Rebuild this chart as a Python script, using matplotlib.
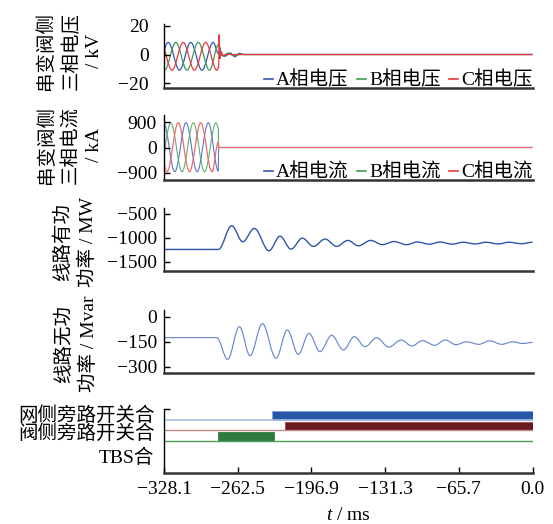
import matplotlib
matplotlib.use('Agg')
import matplotlib.pyplot as plt
from matplotlib.path import Path
from matplotlib.patches import PathPatch
from matplotlib.lines import Line2D

plt.rcParams['font.family'] = ['Liberation Serif', 'Noto Sans CJK SC']
plt.rcParams['font.size'] = 14
plt.rcParams['mathtext.fontset'] = 'custom'
plt.rcParams['mathtext.it'] = 'Liberation Serif:italic'
plt.rcParams['mathtext.rm'] = 'Liberation Serif'

# ---- 数据（从图中读取的极值点，单位：ms） ----
# 串变阀侧三相电压 / kV
ua_t = [-334.3, -324.3, -314.3, -304.3, -294.3, -284.3, -279.5, -274.0, -269.0, -265.0, -261.0, -257.0, 0.0]
ua_v = [-11, 8.5, -11, 8.5, -11, 8.5, 0.5, -1.2, 1.0, -1.5, 0.8, 0, 0]
ub_t = [-337.6, -327.6, -317.6, -307.6, -297.6, -287.6, -279.5, -276.0, -271.0, -266.0, -260.0, 0.0]
ub_v = [8.5, -11, 8.5, -11, 8.5, -11, 7, -1, 1, -0.8, 0, 0]
uc_t = [-331.0, -321.0, -311.0, -301.0, -291.0, -281.0, -279.4, -279.1, -278.3, -277.3, -275.5, -272.0, 0.0]
uc_v = [8.5, -11, 8.5, -11, 8.5, -11, -9, 14, -3, 2, -0.5, 0, 0]

# 串变阀侧三相电流 / kA
ia_t = [-328.5, -318.5, -308.5, -298.6, -288.6, -279.7, -279.5, 0.0]
ia_v = [875, -855, 875, -855, 875, -830, 0, 0]
ib_t = [-332.0, -322.1, -312.0, -302.0, -292.0, -281.8, -279.7, -279.5, 0.0]
ib_v = [-855, 875, -855, 875, -855, 875, 690, 0, 0]
ic_t = [-335.4, -325.4, -315.4, -305.4, -295.4, -285.4, -279.7, -279.5, 0.0]
ic_v = [875, -855, 875, -855, 875, -855, 190, 0, 0]

# 线路有功功率 / MW
p_t = [-328.1, -279.7, -267.8, -258.0, -247.7, -234.6, -224.8, -215.0, -204.9, -195.1,
       -184.7, -174.3, -164.5, -155.0, -144.0, -133.7, -123.3, -112.2, -102.8, -91.8,
       -82.3, -71.3, -61.9, -50.9, -41.4, -30.5, -21.0, -9.9, 0.0]
p_v = [-1240, -1240, -746, -1079, -802, -1267, -963, -1233, -1004, -1177,
       -1024, -1177, -1052, -1163, -1052, -1140, -1075, -1140, -1085, -1130,
       -1085, -1130, -1090, -1125, -1090, -1125, -1090, -1120, -1090]

# 线路无功功率 / Mvar
q_t = [-328.1, -281.2, -271.4, -261.0, -251.5, -240.5, -228.4, -218.3, -208.5, -199.0,
       -189.2, -178.8, -168.4, -158.6, -149.1, -138.7, -128.0, -116.9, -107.5, -98.0,
       -87.1, -77.7, -68.2, -58.8, -47.8, -38.3, -27.3, -17.8, -8.4, 0.0]
q_v = [-124, -124, -254, -58, -232, -40, -248, -78, -224, -98,
       -208, -110, -198, -118, -178, -124, -181, -138, -174, -142,
       -170, -138, -166, -149, -164, -143, -164, -149, -159, -153]

# 开关状态
sw_names = ['网侧旁路开关合', '阀侧旁路开关合', 'TBS合']
sw_on = [-232.2, -220.1, -279.7]
sw_off = [0.0, 0.0, -230.1]

xticks = [-328.1, -262.5, -196.9, -131.3, -65.7, 0.0]

W, H = 553, 524
fig = plt.figure(figsize=(W / 100, H / 100), dpi=100)


def box(top, bottom):
    return [164 / W, 1 - bottom / H, (532.5 - 164) / W, (bottom - top) / H]


def smooth(ax, ts, vs, color, lw):
    # 用三次贝塞尔曲线把极值点连起来
    verts = [(ts[0], vs[0])]
    codes = [Path.MOVETO]
    for i in range(1, len(ts)):
        d = ts[i] - ts[i - 1]
        verts += [(ts[i - 1] + 0.36 * d, vs[i - 1]), (ts[i] - 0.36 * d, vs[i]), (ts[i], vs[i])]
        codes += [Path.CURVE4] * 3
    ax.add_patch(PathPatch(Path(verts, codes), fill=False, ec=color, lw=lw))


def style(ax, pad):
    ax.spines['top'].set_visible(False)
    ax.spines['right'].set_visible(False)
    ax.spines['left'].set_linewidth(1.0)
    ax.spines['bottom'].set_linewidth(1.8)
    ax.spines['bottom'].set_color('#333333')
    ax.set_xlim(-328.1, 0)
    ax.tick_params(axis='y', direction='in', length=4, width=1, pad=pad, labelsize=14)
    ax.tick_params(axis='x', bottom=False, labelbottom=False)


def fmt(v):
    return ('%g' % v).replace('-', '\u2212')


blue, green, red = '#3557b0', '#3d9c50', '#e8383f'

# ---- 三相电压 ----
ax1 = fig.add_axes(box(24, 88))
style(ax1, 11)
ax1.set_ylim(-23.5, 21.4)
ax1.set_yticks([20, 0, -20], [fmt(v) for v in [20, 0, -20]])
smooth(ax1, ua_t, ua_v, blue, 0.9)
smooth(ax1, ub_t, ub_v, green, 0.9)
smooth(ax1, uc_t, uc_v, red, 0.9)
h = [Line2D([], [], color=c, lw=1.2) for c in (blue, green, red)]
ax1.legend(h, ['A相电压', 'B相电压', 'C相电压'], loc='center right', bbox_to_anchor=(1.0, 0.12),
           ncol=3, frameon=False, handlelength=0.45, handletextpad=0.15, columnspacing=0.45,
           borderpad=0, borderaxespad=0, fontsize=14)

# ---- 三相电流 ----
ax2 = fig.add_axes(box(115, 180))
style(ax2, 5)
ax2.set_ylim(-1150, 1150)
ax2.set_yticks([900, 0, -900], [fmt(v) for v in [900, 0, -900]])
smooth(ax2, ia_t, ia_v, '#5b78c8', 0.8)
smooth(ax2, ib_t, ib_v, '#5fb06e', 0.8)
smooth(ax2, ic_t, ic_v, '#ee6a6e', 0.9)
ax2.legend(h, ['A相电流', 'B相电流', 'C相电流'], loc='center right', bbox_to_anchor=(1.0, 0.11),
           ncol=3, frameon=False, handlelength=0.45, handletextpad=0.15, columnspacing=0.45,
           borderpad=0, borderaxespad=0, fontsize=14)

# ---- 有功功率 ----
ax3 = fig.add_axes(box(208, 271))
style(ax3, 5)
ax3.set_ylim(-1690, -375)
ax3.set_yticks([-500, -1000, -1500], [fmt(v) for v in [-500, -1000, -1500]])
smooth(ax3, p_t, p_v, '#2f55aa', 1.0)

# ---- 无功功率 ----
ax4 = fig.add_axes(box(310, 373.3))
style(ax4, 5)
ax4.set_ylim(-338, 42)
ax4.set_yticks([0, -150, -300], [fmt(v) for v in [0, -150, -300]])
smooth(ax4, q_t, q_v, '#5f82cf', 0.8)

# ---- 开关状态 ----
ax5 = fig.add_axes(box(409, 472.7))
style(ax5, 7)
ax5.set_ylim(6, 0)
ax5.set_yticks([0.4, 2.14, 4.4], sw_names)
ax5.tick_params(axis='y', length=0)
ax5.set_yticks([0.02], minor=True)
ax5.tick_params(axis='y', which='minor', direction='in', length=4, width=1)
line_c = ['#a8bde6', '#c08888', '#4f9d5b']
bar_c = ['#2557a6', '#6b1b1f', '#2f7a41']
edge_c = ['#86a3dc', '#9a4a4a', '#2f7a41']
for i in range(3):
    base = i + 1
    ax5.axhline(base, color=line_c[i], lw=1.2 if i == 0 else 1.0)
    ax5.barh(base - 0.41, sw_off[i] - sw_on[i], left=sw_on[i], height=0.82,
             color=bar_c[i], edgecolor=edge_c[i], lw=0.6)
ax5.tick_params(axis='x', bottom=True, labelbottom=True, direction='in', length=4, width=1, pad=6,
                labelsize=14)
ax5.set_xticks(xticks, ['%.1f' % v if v >= 0 else '\u2212%.1f' % -v for v in xticks])
fig.text(348 / W, 1 - 516 / H, r'$t$ / ms', ha='center', va='center', fontsize=14)

# ---- 纵轴标题 ----
ylab = [('串变阀侧\n三相电压\n/ kV', 70, 51),
        ('串变阀侧\n三相电流\n/ kA', 70, 145),
        ('线路有功\n功率 / MW', 75, 242),
        ('线路无功\n功率 / Mvar', 76.5, 344)]
for s, x, y in ylab:
    fig.text(x / W, 1 - y / H, s, rotation=90, ha='center', va='center',
             multialignment='center', linespacing=1.45, fontsize=14)

fig.savefig('out.png', dpi=100)
